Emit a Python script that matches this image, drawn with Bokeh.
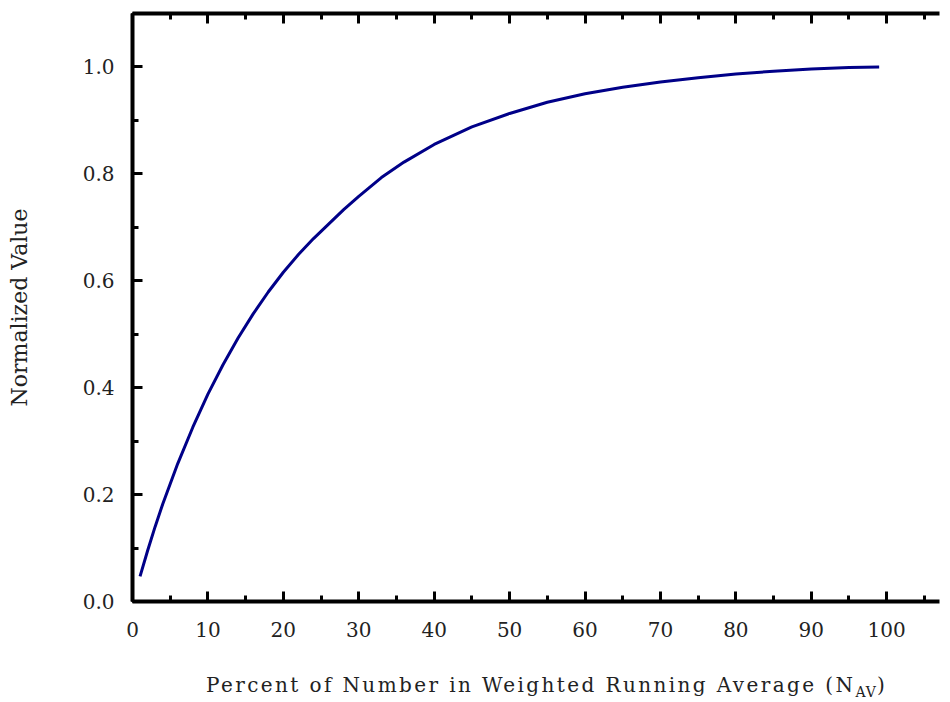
from bokeh.plotting import figure
from bokeh.models import (LinearAxis, SingleIntervalTicker, Range1d,
                          PrintfTickFormatter, Div)
from bokeh.layouts import column
from bokeh.embed import file_html
from bokeh.resources import INLINE

# Data
pct = [1, 2, 3, 4, 6, 8, 10, 12, 14, 16, 18, 20, 22, 24, 26, 28, 30, 33, 36,
       40, 45, 50, 55, 60, 65, 70, 75, 80, 85, 90, 95, 99]
norm_val = [0.047, 0.095, 0.140, 0.182, 0.258, 0.326, 0.388, 0.443, 0.493,
            0.538, 0.579, 0.616, 0.649, 0.679, 0.706, 0.733, 0.758, 0.793,
            0.822, 0.855, 0.888, 0.913, 0.934, 0.950, 0.962, 0.972, 0.980,
            0.987, 0.992, 0.996, 0.999, 1.000]

x_title = "Percent of Number in Weighted Running Average (N"
x_title_sub = "AV"
x_title_end = ")"
y_title = "Normalized Value"

FONT = "DejaVu Serif"

p = figure(width=940, height=655, output_backend="svg", toolbar_location=None,
           x_range=Range1d(0, 107.0), y_range=Range1d(0, 1.1),
           min_border_left=132, min_border_right=1, min_border_top=13,
           min_border_bottom=54, x_axis_type=None, y_axis_type=None)
p.outline_line_color = None
p.grid.visible = False
p.background_fill_color = "white"
p.border_fill_color = "white"

p.line(pct, norm_val, line_color="#000088", line_width=3)

def style(ax, labels=True):
    ax.axis_line_width = 4
    ax.axis_line_color = "black"
    ax.major_tick_in = 10
    ax.major_tick_out = 0
    ax.minor_tick_in = 6
    ax.minor_tick_out = 0
    ax.major_tick_line_width = 3
    ax.minor_tick_line_width = 3
    ax.major_tick_line_color = "black"
    ax.minor_tick_line_color = "black"
    ax.major_label_text_font = FONT
    ax.major_label_text_font_size = "20px"
    ax.major_label_text_color = "#222222" if labels else None

xb = LinearAxis(ticker=SingleIntervalTicker(interval=10, num_minor_ticks=2))
style(xb)
xb.major_label_standoff = 20
p.add_layout(xb, "below")

xt = LinearAxis(ticker=SingleIntervalTicker(interval=10, num_minor_ticks=2))
style(xt, labels=False)
xt.major_label_standoff = 0
xt.major_label_text_font_size = "1px"
p.add_layout(xt, "above")

yl = LinearAxis(ticker=SingleIntervalTicker(interval=0.2, num_minor_ticks=2),
                formatter=PrintfTickFormatter(format="%.1f"))
style(yl)
yl.major_label_standoff = 18
yl.axis_label = y_title
yl.axis_label_text_font = FONT
yl.axis_label_text_font_style = "normal"
yl.axis_label_text_font_size = "22px"
yl.axis_label_text_color = "#222222"
yl.axis_label_standoff = 48
p.add_layout(yl, "left")

title_html = (
    '<div style="font-family:\'DejaVu Serif\'; font-size:20px; color:#222222;'
    ' white-space:nowrap; letter-spacing:2.4px; padding-left:201px;'
    ' padding-top:13px; line-height:24px;">'
    f'{x_title}<sub style="font-size:14px; letter-spacing:1px; line-height:0;">'
    f'{x_title_sub}</sub>{x_title_end}</div>'
)
d = Div(text=title_html, width=940, height=46)

layout = column(p, d, spacing=0)
open("out.html", "w").write(file_html(layout, INLINE))
